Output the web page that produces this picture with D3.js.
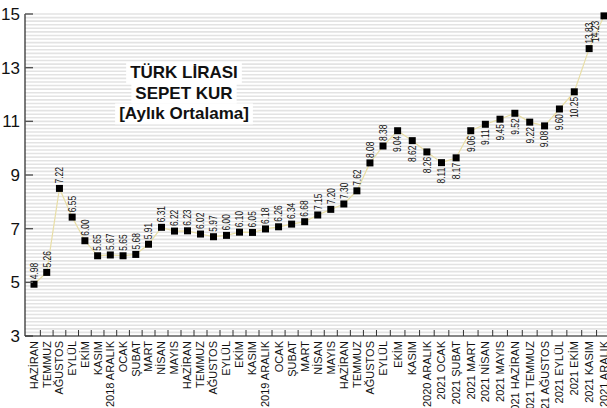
<!DOCTYPE html>
<html>
<head>
<meta charset="utf-8">
<script src="https://cdn.jsdelivr.net/npm/d3@7/dist/d3.min.js"></script>
<style>
  html, body { margin: 0; padding: 0; background: #fff; }
  svg { display: block; }
  text { font-family: "Liberation Sans", Arial, Helvetica, sans-serif; }
</style>
</head>
<body>
<svg id="chart" width="607" height="408"></svg>
<script>
// ---------------- DATA ----------------
const months = [
  "HAZİRAN","TEMMUZ","AĞUSTOS","EYLÜL","EKİM","KASIM","2018 ARALIK",
  "OCAK","ŞUBAT","MART","NİSAN","MAYIS","HAZİRAN","TEMMUZ","AĞUSTOS","EYLÜL","EKİM","KASIM","2019 ARALIK",
  "OCAK","ŞUBAT","MART","NİSAN","MAYIS","HAZİRAN","TEMMUZ","AĞUSTOS","EYLÜL","EKİM","KASIM","2020 ARALIK",
  "2021 OCAK","2021 ŞUBAT","2021 MART","2021 NİSAN","2021 MAYIS","2021 HAZİRAN","2021 TEMMUZ",
  "2021 AĞUSTOS","2021 EYLÜL","2021 EKİM","2021 KASIM","2021 ARALIK"
];
// values as plotted
const plotted = [
  4.93,5.37,8.50,7.43,6.55,5.99,6.02,
  5.99,6.04,6.42,7.05,6.91,6.92,6.80,6.70,6.75,6.87,6.86,6.99,
  7.07,7.17,7.26,7.51,7.72,7.92,8.41,9.45,10.08,10.65,10.28,9.86,
  9.46,9.64,10.65,10.89,11.08,11.30,10.97,
  10.83,11.46,12.10,13.71,14.93
];
// value labels as printed on the chart
const valueLabels = [
  "4.98","5.26","7.22","6.55","6.00","5.65","5.67",
  "5.65","5.68","5.91","6.31","6.22","6.23","6.02","5.97","6.00","6.10","6.05","6.18",
  "6.26","6.34","6.68","7.15","7.20","7.30","7.62","8.08","8.38","9.04","8.62","8.26",
  "8.11","8.17","9.06","9.11","9.45","9.52","9.22",
  "9.08","9.60","10.25","13.83","14.23"
];
// label side relative to marker
const labelSide = [
  "a","a","a","a","a","a","a",
  "a","a","a","a","a","a","a","a","a","a","a","a",
  "a","a","a","a","a","a","a","a","a","b","b","b",
  "b","b","b","b","b","b","b",
  "b","b","b","a","l"
];
const yTicks = [3,5,7,9,11,13,15];
const titleLines = ["TÜRK LİRASI","SEPET KUR","[Aylık Ortalama]"];

// ---------------- LAYOUT ----------------
const W = 607, H = 408;
const axisX = 25, axisY = 336, topY = 14;
const svg = d3.select("#chart");
svg.append("rect").attr("width", W).attr("height", H).attr("fill", "#fff");

const y = d3.scaleLinear().domain([3, 15]).range([axisY, topY]);
// category index -> x (piecewise linear calibration of the original's uneven spacing)
const x = d3.scaleLinear()
  .domain([0, 9, 18, 27, 35, 42])
  .range([34, 148.5, 265.5, 383, 500, 604]);

// grid stripes
const gridVals = d3.range(3, 15.0001, 2/15);
svg.append("g").selectAll("line").data(gridVals).join("line")
  .attr("x1", axisX).attr("x2", W)
  .attr("y1", d => y(d)).attr("y2", d => y(d))
  .attr("stroke", "#e3e3e3").attr("stroke-width", 1.6);

// title with white boxes
const tg = svg.append("g");
titleLines.forEach((t, i) => {
  const txt = tg.append("text")
    .attr("x", 184).attr("y", 78 + i * 20.7)
    .attr("text-anchor", "middle")
    .attr("font-size", 17).attr("font-weight", "bold").attr("fill", "#111")
    .text(t);
  const bb = txt.node().getBBox();
  tg.insert("rect", "text")
    .attr("x", bb.x - 4).attr("y", bb.y - 1)
    .attr("width", bb.width + 8).attr("height", bb.height + 2)
    .attr("fill", "#fff");
});

// line
const line = d3.line().x((d, i) => x(i)).y(d => y(d));
svg.append("path").datum(plotted)
  .attr("d", line).attr("fill", "none")
  .attr("stroke", "#e8dea6").attr("stroke-width", 1.2);

// markers
const ms = 7;
svg.append("g").selectAll("rect").data(plotted).join("rect")
  .attr("x", (d, i) => x(i) - ms / 2).attr("y", d => y(d) - ms / 2)
  .attr("width", ms).attr("height", ms).attr("fill", "#000");

// value labels (rotated, condensed)
svg.append("g").selectAll("text").data(plotted).join("text")
  .attr("transform", (d, i) => {
    const side = labelSide[i];
    let px = x(i), py;
    if (side === "a") py = y(d) - 5;
    else if (side === "b") py = y(d) + 5;
    else { px = x(i) - 9; py = y(d) + 5; }
    return `translate(${px},${py}) rotate(-90) scale(0.8,1)`;
  })
  .attr("dy", "0.36em")
  .attr("text-anchor", (d, i) => labelSide[i] === "a" ? "start" : "end")
  .attr("font-size", 10.5).attr("fill", "#111")
  .text((d, i) => valueLabels[i]);

// y axis
svg.append("line").attr("x1", axisX).attr("x2", axisX)
  .attr("y1", topY).attr("y2", axisY).attr("stroke", "#222").attr("stroke-width", 1.2);
svg.append("g").selectAll("line").data(yTicks).join("line")
  .attr("x1", axisX).attr("x2", axisX + 8)
  .attr("y1", d => y(d)).attr("y2", d => y(d))
  .attr("stroke", "#555").attr("stroke-width", 1.4);
svg.append("g").selectAll("text").data(yTicks).join("text")
  .attr("x", 20).attr("y", d => y(d)).attr("dy", "0.36em")
  .attr("text-anchor", "end").attr("font-size", 17).attr("fill", "#111")
  .text(d => d);

// x axis
svg.append("line").attr("x1", axisX).attr("x2", W)
  .attr("y1", axisY).attr("y2", axisY).attr("stroke", "#222").attr("stroke-width", 1.2);
const boundaries = d3.range(0, months.length - 1).map(i => i + 0.5);
svg.append("g").selectAll("line").data(boundaries).join("line")
  .attr("x1", d => x(d)).attr("x2", d => x(d))
  .attr("y1", axisY).attr("y2", axisY - 6)
  .attr("stroke", "#333").attr("stroke-width", 1);
svg.append("g").selectAll("text").data(months).join("text")
  .attr("transform", (d, i) => `translate(${x(i)},${axisY + 5}) rotate(-90)`)
  .attr("dy", "0.36em")
  .attr("text-anchor", "end").attr("font-size", 11).attr("fill", "#111")
  .text(d => d);
</script>
</body>
</html>
